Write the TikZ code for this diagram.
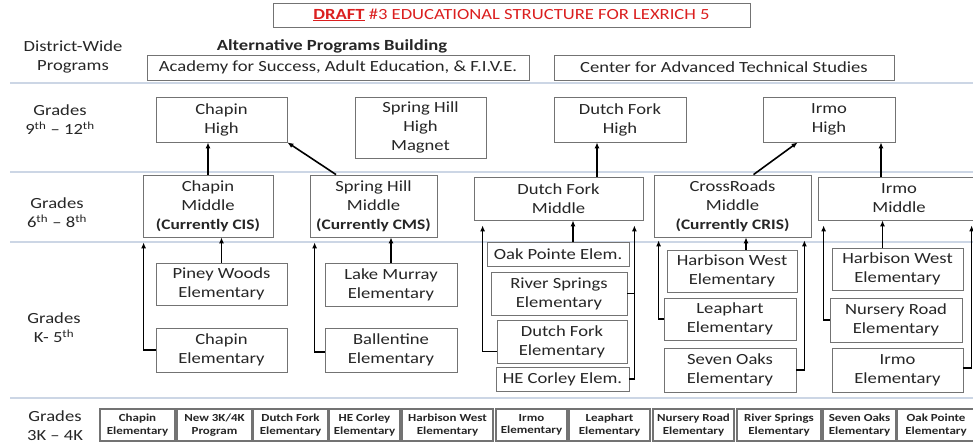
\documentclass[tikz,border=0pt]{standalone}
\usepackage{fontspec}
\setmainfont{Carlito}[FakeStretch=1.2]
\usepackage{tikz}
\usetikzlibrary{arrows.meta}
\definecolor{draftred}{rgb}{0.86,0.12,0.12}
\definecolor{rowline}{rgb}{0.80,0.84,0.90}
\definecolor{frame}{rgb}{0.45,0.45,0.45}
\definecolor{ink}{rgb}{0.15,0.15,0.15}
\tikzstyle{school}=[draw=frame, line width=0.8pt, fill=white, text=ink, align=center, inner sep=0pt]
\tikzstyle{grade}=[text=ink, align=center]
\tikzstyle{pre}=[school, line width=1.1pt, minimum height=32pt, font=\bfseries\fontsize{10.8}{12.5}\selectfont]
\tikzstyle{feed}=[-{Latex[length=6pt,width=5pt]}, line width=1.6pt]
\tikzstyle{side}=[feed, shorten >=5pt]
\newcommand{\nowcalled}[1]{{\bfseries\fontsize{14.5}{19}\selectfont(Currently #1)}}

\begin{document}
\begin{tikzpicture}[x=1pt, y=-1pt, font=\fontsize{15.5}{19}\selectfont]
\useasboundingbox (0,0) rectangle (973,443);
\foreach \y in {83,172,242,398}
  \draw[rowline, line width=1.5pt] (10,\y) -- (973,\y);

\node[school, minimum width=477pt, minimum height=24pt] (title) at (511.5,15)
  {\textcolor{draftred}{\textbf{\underline{DRAFT}} \#3 EDUCATIONAL STRUCTURE FOR LEXRICH 5}};

% row labels
\node[grade] (districtL) at (73,57) {District-Wide\\Programs};
\node[grade] (highL) at (60,120) {Grades\\9\textsuperscript{th} -- 12\textsuperscript{th}};
\node[grade] (middleL) at (57,213) {Grades\\6\textsuperscript{th} -- 8\textsuperscript{th}};
\node[grade] (elemL) at (54,328) {Grades\\K- 5\textsuperscript{th}};
\node[grade] (preL) at (55,426) {Grades\\3K -- 4K};

% district-wide programs
\node[grade, font=\bfseries\fontsize{15.5}{19}\selectfont] (altL) at (332,46) {Alternative Programs Building};
\node[school, minimum width=382pt, minimum height=25pt] (academy) at (338,67.5) {Academy for Success, Adult Education, \& F.I.V.E.};
\node[school, minimum width=340pt, minimum height=25pt] (cats) at (724,67.5) {Center for Advanced Technical Studies};

% high schools
\node[school, minimum width=131pt, minimum height=45pt] (chapinH) at (221.5,119.5) {Chapin\\High};
\node[school, minimum width=131pt, minimum height=61pt] (shH) at (420.5,127.5) {Spring Hill\\High\\Magnet};
\node[school, minimum width=132pt, minimum height=45pt] (dfH) at (620,119.5) {Dutch Fork\\High};
\node[school, minimum width=132pt, minimum height=45pt] (irmoH) at (829,119.5) {Irmo\\High};

% middle schools
\node[school, minimum width=130pt, minimum height=62pt] (chapinM) at (208,206) {Chapin\\Middle\\\nowcalled{CIS}};
\node[school, minimum width=127pt, minimum height=62pt] (shM) at (373.5,206) {Spring Hill\\Middle\\\nowcalled{CMS}};
\node[school, minimum width=169pt, minimum height=43pt] (dfM) at (558.5,198.5) {Dutch Fork\\Middle};
\node[school, minimum width=157pt, minimum height=62pt] (crM) at (732.5,206) {CrossRoads\\Middle\\\nowcalled{CRIS}};
\node[school, minimum width=162pt, minimum height=43pt] (irmoM) at (899,198.5) {Irmo\\Middle};

% elementary schools
\node[school, minimum width=131pt, minimum height=42pt] (pineyW) at (221.5,284) {Piney Woods\\Elementary};
\node[school, minimum width=131pt, minimum height=44pt] (chapinE) at (221.5,350) {Chapin\\Elementary};
\node[school, minimum width=132pt, minimum height=43pt] (lakeM) at (391,284.5) {Lake Murray\\Elementary};
\node[school, minimum width=132pt, minimum height=44pt] (ballE) at (391,350) {Ballentine\\Elementary};
\node[school, minimum width=142pt, minimum height=24pt] (oakP) at (558,254) {Oak Pointe Elem.};
\node[school, minimum width=136pt, minimum height=43pt] (riverS) at (559,293.5) {River Springs\\Elementary};
\node[school, minimum width=130pt, minimum height=43pt] (dfE) at (562,341.5) {Dutch Fork\\Elementary};
\node[school, minimum width=133pt, minimum height=24pt] (heC) at (562.5,379) {HE Corley Elem.};
\node[school, minimum width=130pt, minimum height=42pt] (hwCR) at (732,271) {Harbison West\\Elementary};
\node[school, minimum width=132pt, minimum height=42pt] (leaph) at (730,319) {Leaphart\\Elementary};
\node[school, minimum width=132pt, minimum height=44pt] (sevenO) at (730,370) {Seven Oaks\\Elementary};
\node[school, minimum width=131pt, minimum height=42pt] (hwIr) at (897.5,269) {Harbison West\\Elementary};
\node[school, minimum width=132pt, minimum height=44pt] (nurseryR) at (896,320) {Nursery Road\\Elementary};
\node[school, minimum width=131pt, minimum height=44pt] (irmoE) at (897.5,370) {Irmo\\Elementary};

% 3K-4K programs
\node[pre, minimum width=75pt] (preChapin) at (137.5,425) {Chapin\\Elementary};
\node[pre, minimum width=75pt] (preNew) at (214.5,425) {New 3K/4K\\Program};
\node[pre, minimum width=75pt] (preDF) at (290.5,425) {Dutch Fork\\Elementary};
\node[pre, minimum width=71pt] (preHEC) at (364.5,425) {HE Corley\\Elementary};
\node[pre, minimum width=91pt] (preHW) at (447.5,425) {Harbison West\\Elementary};
\node[pre, minimum width=71pt] (preIrmo) at (531.5,425) {Irmo\\Elementary};
\node[pre, minimum width=81pt] (preLeap) at (609.5,425) {Leaphart\\Elementary};
\node[pre, minimum width=81pt] (preNR) at (693.5,425) {Nursery Road\\Elementary};
\node[pre, minimum width=84pt] (preRS) at (779,425) {River Springs\\Elementary};
\node[pre, minimum width=73pt] (preSO) at (859.5,425) {Seven Oaks\\Elementary};
\node[pre, minimum width=78pt] (preOP) at (936,425) {Oak Pointe\\Elementary};

% middle -> high
\draw[feed] (chapinM.north) -- (chapinM.north |- chapinH.south);
\draw[feed] (shM.140) -- (chapinH.south east);
\draw[feed] ([xshift=38.5pt]dfM.north) -- ([xshift=38.5pt]dfM.north |- dfH.south);
\draw[feed] ([xshift=21pt]crM.north) -- ([xshift=35pt]irmoH.south west);
\draw[feed] ([xshift=52pt]irmoH.south |- irmoM.north) -- ([xshift=52pt]irmoH.south);

% elementary -> middle
\draw[feed] (pineyW.north) -- (pineyW.north |- chapinM.south);
\draw[side] (chapinE.west) -| ([xshift=1pt]chapinM.south west);
\draw[feed] (lakeM.north) -- (lakeM.north |- shM.south);
\draw[side] ([yshift=-2pt]ballE.west) -| ([xshift=5pt]shM.south west);
\draw[feed] ([xshift=15pt]oakP.north) -- ([xshift=15pt]oakP.north |- dfM.south);
\draw[side] ([yshift=-10pt]dfE.west) -| ([xshift=9pt]dfM.south west);
\draw[side] (heC.east) -| ([xshift=-9pt]dfM.south east);
\draw[line width=1.6pt] (riverS.east) -- ([xshift=-9pt]dfM.south east |- riverS.east);
\draw[feed] ([xshift=14pt]hwCR.north) -- ([xshift=14pt]hwCR.north |- crM.south);
\draw[side, shorten >=3pt] (leaph.west) -| ([xshift=5pt]crM.south west);
\draw[side, shorten >=3pt] (sevenO.east) -| ([xshift=-7pt]crM.south east);
\draw[feed] ([xshift=-15pt]hwIr.north) -- ([xshift=-15pt]hwIr.north |- irmoM.south);
\draw[side] (nurseryR.west) -| ([xshift=6pt]irmoM.south west);
\draw[side] ([yshift=2pt]irmoE.east) -| ([xshift=154pt]irmoM.south west);
\end{tikzpicture}
\end{document}
